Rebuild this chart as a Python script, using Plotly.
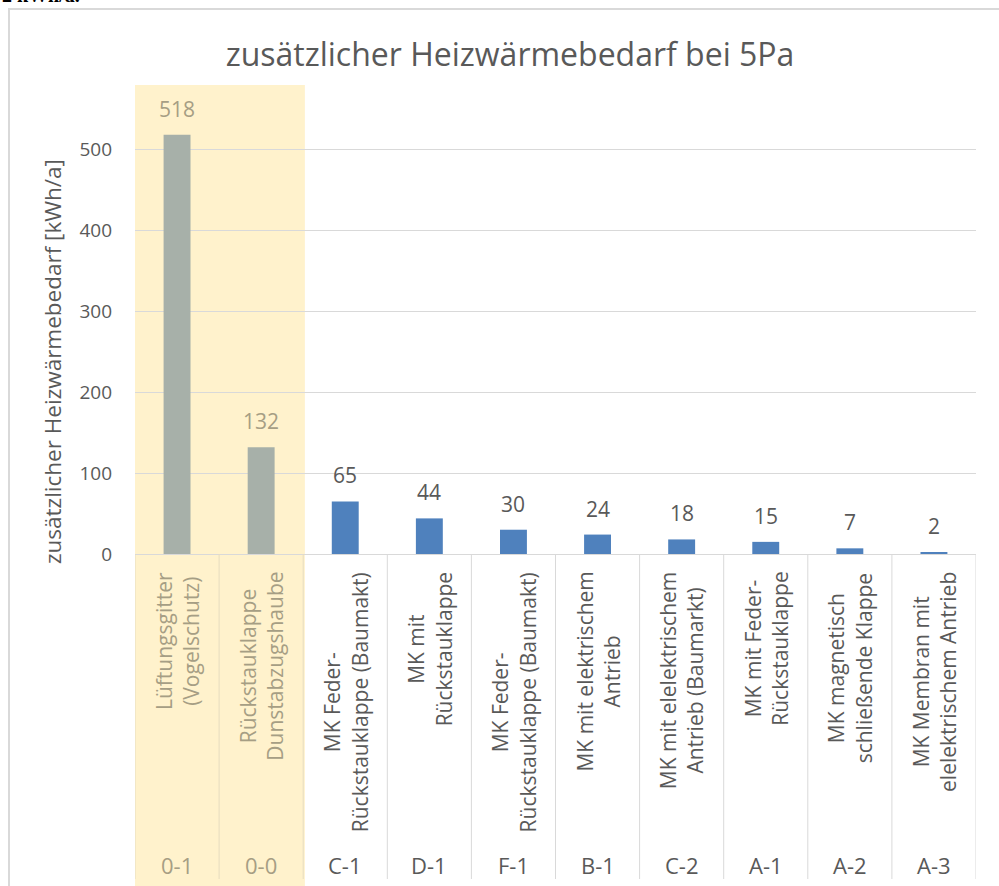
import plotly.graph_objects as go

codes = ["0-1", "0-0", "C-1", "D-1", "F-1", "B-1", "C-2", "A-1", "A-2", "A-3"]
names = [
    "Lüftungsgitter<br>(Vogelschutz)",
    "Rückstauklappe<br>Dunstabzugshaube",
    "MK Feder-<br>Rückstauklappe (Baumakt)",
    "MK mit<br>Rückstauklappe",
    "MK Feder-<br>Rückstauklappe (Baumakt)",
    "MK mit elektrischem<br>Antrieb",
    "MK mit elelektrischem<br>Antrieb (Baumarkt)",
    "MK mit Feder-<br>Rückstauklappe",
    "MK magnetisch<br>schließende Klappe",
    "MK Membran mit<br>elelektrischem Antrieb",
]
values = [518, 132, 65, 44, 30, 24, 18, 15, 7, 2]
highlighted = [True, True, False, False, False, False, False, False, False, False]

title_text = "zusätzlicher Heizwärmebedarf bei 5Pa"
y_title = "zusätzlicher Heizwärmebedarf [kWh/a]"
y_ticks = [0, 100, 200, 300, 400, 500]

FONT = "Open Sans"
GRAY_TXT = "#595959"
KHAKI_TXT = "#A69E84"
GRID = "#D9D9D9"
BAR_GRAY = "#A7B0A9"
BAR_BLUE = "#4F81BD"
HILITE = "#FFF2CC"

W, H = 999, 886
L, R, T, B = 135, 23, 85, 332  # plot area px: x 135..976, y 85..554
PH = H - T - B
PW = W - L - R

def px_x(p):
    return (p - L) / PW

def px_y(p):
    return (H - B - p) / PH

cats = list(range(len(codes)))
bar_colors = [BAR_GRAY if h else BAR_BLUE for h in highlighted]

fig = go.Figure()
fig.add_trace(go.Bar(
    x=cats, y=values, marker=dict(color=bar_colors, line=dict(width=0)),
    width=0.32, hoverinfo="skip", showlegend=False,
))

annotations = []
# data labels
for i, v in enumerate(values):
    annotations.append(dict(
        x=i, y=v, xref="x", yref="y", text=str(v), showarrow=False,
        yanchor="middle", yshift=26,
        font=dict(family=FONT, size=21, color=KHAKI_TXT if highlighted[i] else GRAY_TXT),
    ))
# category names (rotated) and codes
for i, (n, c) in enumerate(zip(names, codes)):
    col = KHAKI_TXT if highlighted[i] else GRAY_TXT
    annotations.append(dict(
        x=i, y=px_y(570), xref="x", yref="paper", text=n, showarrow=False,
        textangle=-90, yanchor="top", xanchor="center", align="center",
        font=dict(family=FONT, size=21, color=col),
    ))
    annotations.append(dict(
        x=i, y=px_y(865), xref="x", yref="paper", text=c, showarrow=False,
        yanchor="middle", xanchor="center",
        font=dict(family=FONT, size=22, color=col),
    ))
# y axis title
annotations.append(dict(
    x=px_x(52), y=px_y(362), xref="paper", yref="paper", text=y_title,
    showarrow=False, textangle=-90, xanchor="center", yanchor="middle",
    font=dict(family=FONT, size=22.5, color=GRAY_TXT),
))
# cut-off document text at the very top
annotations.append(dict(
    x=px_x(0), y=px_y(8), xref="paper", yref="paper", text="<b>2 kWh/a.</b>",
    showarrow=False, xanchor="left", yanchor="bottom",
    font=dict(family="Liberation Serif", size=20, color="#000000"),
))

shapes = []
# highlight rectangle
shapes.append(dict(
    type="rect", xref="x", yref="paper", x0=-0.524, x1=1.52,
    y0=px_y(886), y1=px_y(85), fillcolor=HILITE, line=dict(width=0), layer="below",
))
# category dividers below the axis
for k in range(len(codes) + 1):
    xb = k - 0.5
    shapes.append(dict(
        type="line", xref="x", yref="paper", x0=xb, x1=xb,
        y0=px_y(554), y1=px_y(879),
        line=dict(color="#E6DCC0" if xb < 1.6 else GRID, width=1), layer="above",
    ))
# chart frame border (top and left)
shapes.append(dict(type="line", xref="paper", yref="paper",
                   x0=px_x(8), x1=px_x(1005), y0=px_y(9), y1=px_y(9),
                   line=dict(color="#D9D9D9", width=2)))
shapes.append(dict(type="line", xref="paper", yref="paper",
                   x0=px_x(9), x1=px_x(9), y0=px_y(9), y1=px_y(900),
                   line=dict(color="#D9D9D9", width=2)))

fig.update_layout(
    width=W, height=H,
    margin=dict(l=L, r=R, t=T, b=B, autoexpand=False),
    paper_bgcolor="white", plot_bgcolor="rgba(0,0,0,0)",
    title=dict(text=title_text, x=510 / W, xanchor="center", y=1 - 55 / H, yanchor="middle",
               font=dict(family=FONT, size=32, color=GRAY_TXT)),
    bargap=0.68,
    annotations=annotations,
    shapes=shapes,
    font=dict(family=FONT, color=GRAY_TXT),
)
fig.update_xaxes(
    range=[-0.5, len(codes) - 0.5], tickmode="array", tickvals=cats,
    showticklabels=False, showgrid=False, zeroline=False,
    showline=True, linecolor=GRID, linewidth=1, ticks="",
)
fig.update_yaxes(
    range=[0, (H - B - T) / (404.7 / 500)], tickmode="array", tickvals=y_ticks,
    showgrid=True, gridcolor=GRID, gridwidth=1, zeroline=False, showline=False,
    ticks="", ticklabelstandoff=22,
    tickfont=dict(family=FONT, size=19, color=GRAY_TXT),
)

fig.write_html(
    "out.html",
    config={"displayModeBar": False},
    post_script="document.body.style.margin='0';document.body.style.overflow='hidden';",
)
